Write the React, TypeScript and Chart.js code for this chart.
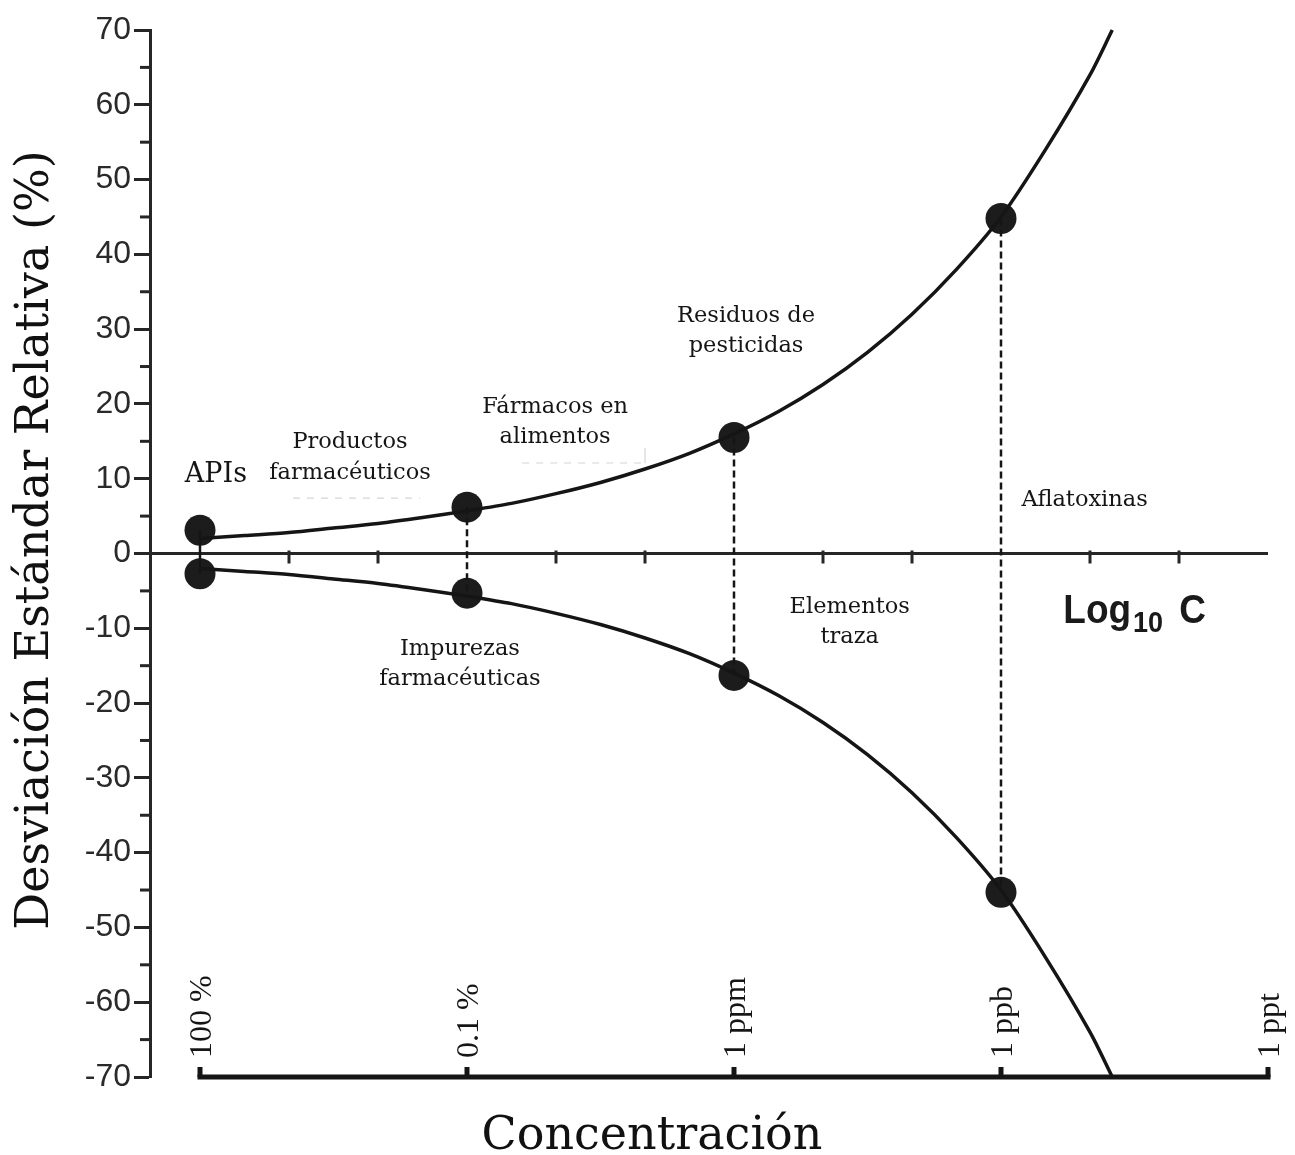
import { useEffect, useRef } from "react";
import { Chart, registerables } from "chart.js";

Chart.register(...registerables);

// Decades below 100 % (log10 C = -decade)
const curveDecades = [0, 0.5, 1, 1.5, 2, 2.5, 3, 3.5, 4, 4.5, 5, 5.5, 6, 6.5, 7, 7.5, 8, 8.5, 9, 9.5, 10, 10.25];
const upperRSD = [2.0, 2.4, 2.8, 3.4, 4.0, 4.8, 5.7, 6.7, 8.0, 9.5, 11.3, 13.4, 16.0, 19.0, 22.6, 26.9, 32.0, 38.0, 45.0, 54.0, 64.0, 70.0];
const lowerRSD = [-2.0, -2.4, -2.8, -3.4, -4.0, -4.8, -5.7, -6.7, -8.0, -9.5, -11.3, -13.4, -16.0, -19.0, -22.6, -26.9, -32.0, -38.0, -45.0, -54.0, -64.0, -70.0];

const markerDecades = [0, 0, 3, 3, 6, 6, 9, 9];
const markerRSD = [3.1, -2.7, 6.2, -5.3, 15.5, -16.3, 44.8, -45.3];

const concLabels = ["100 %", "0.1 %", "1 ppm", "1 ppb", "1 ppt"];
const concDecades = [0, 3, 6, 9, 12];
const zeroLineTickDecades = [1, 2, 4, 5, 7, 8, 10, 11];
const yMinorTicks = [-65, -55, -45, -35, -25, -15, -5, 5, 15, 25, 35, 45, 55, 65];

const regionLabels = [
  "APIs",
  "Productos", "farmacéuticos",
  "Fármacos en", "alimentos",
  "Residuos de", "pesticidas",
  "Aflatoxinas",
  "Elementos", "traza",
  "Impurezas", "farmacéuticas",
];

// placement (data coordinates) and style of annotations
const regionLabelPlacement = [
  { x: -0.17, y: 9.6, align: "left", size: 27 },
  { x: 1.685, y: 14.1, align: "center", size: 22.5 },
  { x: 1.685, y: 9.95, align: "center", size: 22.5 },
  { x: 3.99, y: 18.8, align: "center", size: 22.5 },
  { x: 3.99, y: 14.8, align: "center", size: 22.5 },
  { x: 6.135, y: 30.95, align: "center", size: 22.5 },
  { x: 6.135, y: 27.0, align: "center", size: 22.5 },
  { x: 9.94, y: 6.35, align: "center", size: 22.5 },
  { x: 7.3, y: -7.96, align: "center", size: 22.5 },
  { x: 7.3, y: -11.97, align: "center", size: 22.5 },
  { x: 2.92, y: -13.57, align: "center", size: 22.5 },
  { x: 2.92, y: -17.58, align: "center", size: 22.5 },
];

const INK = "#151515";
const AXIS = "#262626";

const decorPlugin = {
  id: "decor",
  beforeDatasetsDraw(chart: any) {
    const { ctx, chartArea } = chart;
    const xs = chart.scales.x;
    const ys = chart.scales.y;
    ctx.save();
    // minor y ticks
    ctx.strokeStyle = AXIS;
    ctx.lineWidth = 3;
    yMinorTicks.forEach((v) => {
      const py = ys.getPixelForValue(v);
      ctx.beginPath();
      ctx.moveTo(chartArea.left - 10, py);
      ctx.lineTo(chartArea.left, py);
      ctx.stroke();
    });
    // zero line
    const y0 = ys.getPixelForValue(0);
    ctx.lineWidth = 3;
    ctx.beginPath();
    ctx.moveTo(chartArea.left, y0);
    ctx.lineTo(xs.getPixelForValue(12), y0);
    ctx.stroke();
    zeroLineTickDecades.forEach((d) => {
      const px = xs.getPixelForValue(d);
      ctx.beginPath();
      ctx.moveTo(px, y0 - 3);
      ctx.lineTo(px, y0 + 10);
      ctx.stroke();
    });
    // faint guide dashes
    ctx.strokeStyle = "#d6d6d6";
    ctx.lineWidth = 1.2;
    ctx.setLineDash([7, 7]);
    ctx.beginPath();
    ctx.moveTo(xs.getPixelForValue(1.045), ys.getPixelForValue(7.4));
    ctx.lineTo(xs.getPixelForValue(2.47), ys.getPixelForValue(7.4));
    ctx.moveTo(xs.getPixelForValue(3.62), ys.getPixelForValue(12.1));
    ctx.lineTo(xs.getPixelForValue(5.0), ys.getPixelForValue(12.1));
    ctx.stroke();
    ctx.setLineDash([]);
    ctx.beginPath();
    ctx.moveTo(xs.getPixelForValue(5.0), ys.getPixelForValue(12.1));
    ctx.lineTo(xs.getPixelForValue(5.0), ys.getPixelForValue(14.1));
    ctx.stroke();

    // bottom concentration axis
    const yb = ys.getPixelForValue(-70);
    ctx.strokeStyle = INK;
    ctx.lineWidth = 5;
    ctx.beginPath();
    ctx.moveTo(xs.getPixelForValue(0) - 2.5, yb);
    ctx.lineTo(xs.getPixelForValue(12) + 2.5, yb);
    ctx.stroke();
    concDecades.forEach((d, i) => {
      const px = xs.getPixelForValue(d);
      ctx.lineWidth = 5;
      ctx.beginPath();
      ctx.moveTo(px, yb);
      ctx.lineTo(px, yb - 10);
      ctx.stroke();
      ctx.save();
      ctx.translate(px + 11, yb - 19);
      ctx.rotate(-Math.PI / 2);
      ctx.fillStyle = INK;
      ctx.font = '32px "Liberation Serif"';
      ctx.textAlign = "left";
      ctx.textBaseline = "alphabetic";
      ctx.fillText(concLabels[i], 0, 0);
      ctx.restore();
    });
    ctx.restore();
  },
  afterDraw(chart: any) {
    const { ctx } = chart;
    const xs = chart.scales.x;
    const ys = chart.scales.y;
    ctx.save();
    ctx.fillStyle = INK;
    ctx.textBaseline = "alphabetic";
    regionLabels.forEach((t, i) => {
      const p = regionLabelPlacement[i];
      ctx.font = `${p.size}px "DejaVu Serif"`;
      ctx.textAlign = p.align;
      ctx.fillText(t, xs.getPixelForValue(p.x), ys.getPixelForValue(p.y));
    });
    // Log10 C
    const lx = xs.getPixelForValue(9.7);
    const ly = ys.getPixelForValue(-9.3);
    ctx.save();
    ctx.translate(lx, ly);
    ctx.scale(1.0, 1.1);
    ctx.textAlign = "left";
    ctx.fillStyle = "#1a1a1a";
    ctx.font = 'bold 37px "Liberation Sans"';
    ctx.fillText("Log", 0, 0);
    let w = ctx.measureText("Log").width;
    ctx.font = 'bold 27px "Liberation Sans"';
    ctx.fillText("10", w + 2, 8);
    w += ctx.measureText("10").width + 18;
    ctx.font = 'bold 37px "Liberation Sans"';
    ctx.fillText("C", w, 0);
    ctx.restore();

    // axis titles
    ctx.font = '46px "DejaVu Serif"';
    ctx.textAlign = "center";
    ctx.fillStyle = "#111";
    ctx.fillText("Concentración", 652, 1149);
    ctx.save();
    ctx.translate(48, 540);
    ctx.rotate(-Math.PI / 2);
    ctx.font = '46px "DejaVu Serif"';
    ctx.fillText("Desviación Estándar Relativa (%)", 0, 0);
    ctx.restore();
    ctx.restore();
  },
};

export default function App() {
  const canvasRef = useRef<HTMLCanvasElement | null>(null);

  useEffect(() => {
    if (!canvasRef.current) return;
    const connectors: any[] = [];
    for (let i = 0; i < markerDecades.length; i += 2) {
      connectors.push({
        data: [
          { x: markerDecades[i], y: markerRSD[i] },
          { x: markerDecades[i + 1], y: markerRSD[i + 1] },
        ],
        showLine: true,
        borderColor: INK,
        borderWidth: 2.5,
        borderDash: markerDecades[i] === 0 ? [] : [7, 4],
        pointRadius: 0,
        clip: false,
      });
    }
    const chart = new Chart(canvasRef.current, {
      type: "scatter",
      data: {
        datasets: [
          {
            data: curveDecades.map((d, i) => ({ x: d, y: upperRSD[i] })),
            showLine: true,
            borderColor: INK,
            borderWidth: 3.5,
            pointRadius: 0,
            tension: 0.3,
            clip: false,
          },
          {
            data: curveDecades.map((d, i) => ({ x: d, y: lowerRSD[i] })),
            showLine: true,
            borderColor: INK,
            borderWidth: 3.5,
            pointRadius: 0,
            tension: 0.3,
            clip: false,
          },
          ...connectors,
          {
            data: markerDecades.map((d, i) => ({ x: d, y: markerRSD[i] })),
            showLine: false,
            pointRadius: 15.5,
            pointBackgroundColor: "#1c1c1c",
            pointBorderWidth: 0,
            clip: false,
          },
        ],
      } as any,
      options: {
        animation: false,
        responsive: true,
        maintainAspectRatio: false,
        layout: { padding: { top: 30, right: 27, bottom: 78, left: 0 } },
        plugins: { legend: { display: false }, tooltip: { enabled: false } },
        events: [],
        scales: {
          x: {
            type: "linear",
            min: -0.5618,
            max: 12,
            display: false,
          },
          y: {
            type: "linear",
            min: -70,
            max: 70,
            afterFit: (scale: any) => {
              scale.width = 150;
            },
            ticks: {
              stepSize: 10,
              color: "#2a2a2a",
              padding: 3,
              font: { family: '"Liberation Sans"', size: 32 },
            },
            grid: {
              drawOnChartArea: false,
              tickLength: 16,
              tickWidth: 3,
              tickColor: AXIS,
            },
            border: { display: true, width: 3, color: AXIS },
          },
        },
      } as any,
      plugins: [decorPlugin],
    });
    return () => chart.destroy();
  }, []);

  return (
    <div style={{ position: "absolute", left: 0, top: 0, width: 1295, height: 1155, background: "#fff" }}>
      <canvas ref={canvasRef} />
    </div>
  );
}
